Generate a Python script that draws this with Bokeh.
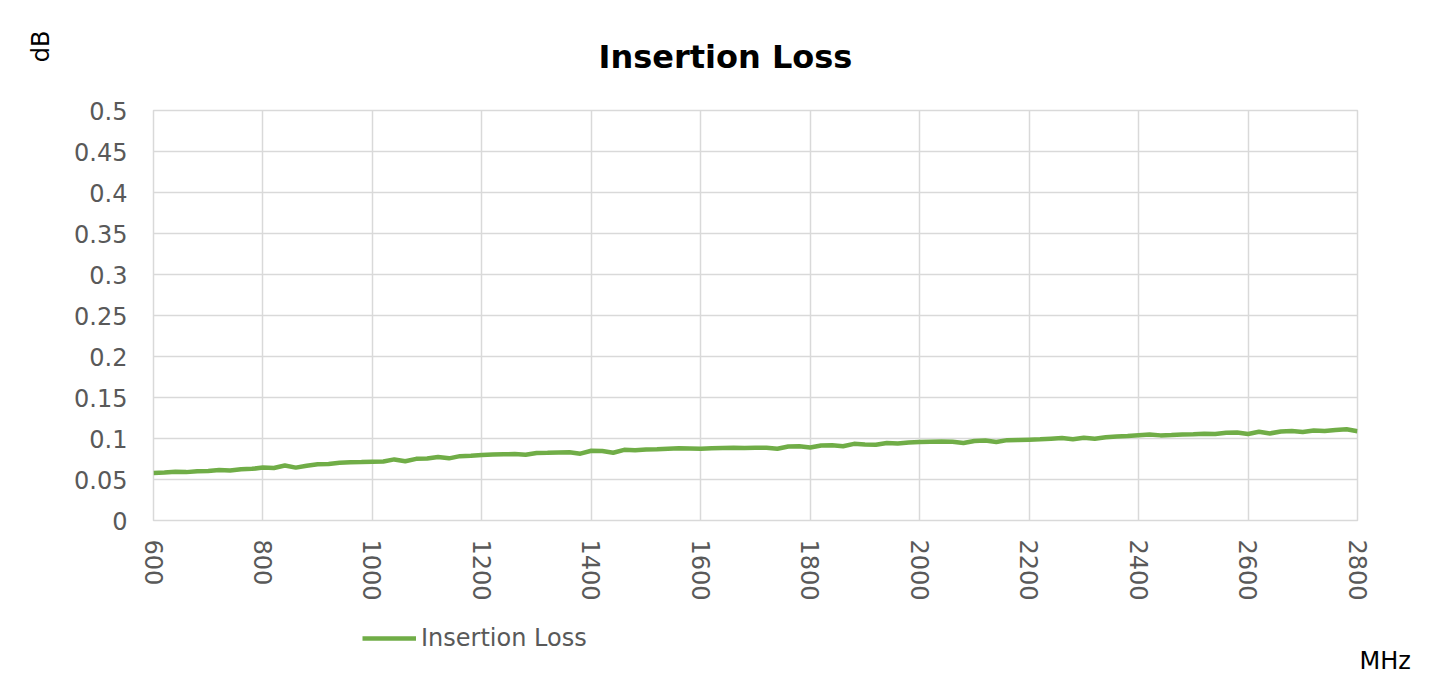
import math
from bokeh.plotting import figure
from bokeh.layouts import column
from bokeh.models import (Legend, LegendItem, FixedTicker, Range1d, LinearAxis,
                          ColumnDataSource, Title)
from bokeh.embed import file_html
from bokeh.resources import INLINE

# ---- data -------------------------------------------------------------
freq_mhz = list(range(600, 2801, 20))
insertion_loss_db = [
    0.0580, 0.0585, 0.0595, 0.0590, 0.0602, 0.0605, 0.0615, 0.0610, 0.0625, 0.0630,
    0.0645, 0.0640, 0.0670, 0.0645, 0.0668, 0.0685, 0.0690, 0.0705, 0.0710, 0.0712,
    0.0716, 0.0720, 0.0745, 0.0722, 0.0752, 0.0755, 0.0775, 0.0758, 0.0785, 0.0790,
    0.0800, 0.0805, 0.0808, 0.0810, 0.0802, 0.0822, 0.0825, 0.0830, 0.0832, 0.0815,
    0.0850, 0.0848, 0.0826, 0.0862, 0.0858, 0.0865, 0.0868, 0.0875, 0.0880, 0.0878,
    0.0876, 0.0882, 0.0885, 0.0888, 0.0884, 0.0886, 0.0888, 0.0875, 0.0902, 0.0905,
    0.0890, 0.0915, 0.0918, 0.0905, 0.0935, 0.0928, 0.0924, 0.0945, 0.0940, 0.0952,
    0.0957, 0.0960, 0.0962, 0.0960, 0.0945, 0.0970, 0.0975, 0.0958, 0.0980, 0.0982,
    0.0986, 0.0990, 0.0998, 0.1005, 0.0990, 0.1010, 0.0998, 0.1015, 0.1025, 0.1030,
    0.1040, 0.1050, 0.1038, 0.1042, 0.1048, 0.1052, 0.1058, 0.1056, 0.1070, 0.1072,
    0.1055, 0.1082, 0.1062, 0.1085, 0.1092, 0.1080, 0.1098, 0.1092, 0.1105, 0.1112,
    0.1088,
]
x_ticks = list(range(600, 2801, 200))
y_ticks = [0, 0.05, 0.1, 0.15, 0.2, 0.25, 0.3, 0.35, 0.4, 0.45, 0.5]
y_tick_labels = ["0", "0.05", "0.1", "0.15", "0.2", "0.25", "0.3", "0.35", "0.4", "0.45", "0.5"]
title_text = "Insertion Loss"
series_name = "Insertion Loss"
y_unit = "dB"
x_unit = "MHz"

FONT = "DejaVu Sans"
TICK_COLOR = "#595959"
GRID_COLOR = "#d9d9d9"
LINE_COLOR = "#70ad47"

W = 1433
H_MAIN = 610
H_FOOT = 74

# ---- main chart -------------------------------------------------------
p = figure(
    width=W, height=H_MAIN,
    frame_width=1204, frame_height=410,
    min_border_left=153, min_border_right=76,
    min_border_top=110, min_border_bottom=90,
    x_range=Range1d(600, 2800), y_range=Range1d(0, 0.5),
    output_backend="svg", toolbar_location=None,
    background_fill_color="white", border_fill_color="white",
)
p.outline_line_color = GRID_COLOR
p.outline_line_width = 1.5

src = ColumnDataSource(dict(x=freq_mhz, y=insertion_loss_db))
r = p.line("x", "y", source=src, line_color=LINE_COLOR, line_width=4.5)

for g in (p.xgrid, p.ygrid):
    g.grid_line_color = GRID_COLOR
    g.grid_line_width = 1.5
p.xaxis.ticker = FixedTicker(ticks=x_ticks)
p.yaxis.ticker = FixedTicker(ticks=y_ticks)
p.yaxis.major_label_overrides = {t: s for t, s in zip(y_ticks, y_tick_labels)}

for ax in (p.xaxis[0], p.yaxis[0]):
    ax.axis_line_color = None
    ax.major_tick_line_color = None
    ax.minor_tick_line_color = None
    ax.major_label_text_font = FONT
    ax.major_label_text_font_size = "24px"
    ax.major_label_text_color = TICK_COLOR
p.yaxis.major_label_standoff = 20
p.xaxis.major_label_standoff = 13
p.xaxis.major_label_orientation = -math.pi / 2

p.title.text = title_text
p.title.align = "left"
p.title.text_font = FONT
p.title.text_font_style = "bold"
p.title.text_font_size = "32px"
p.title.text_color = "black"
p.title.offset = 445
p.title.standoff = 70

p.add_layout(Title(text=y_unit, align="right", offset=-80, standoff=33,
                   text_font=FONT, text_font_size="24px", text_font_style="normal",
                   text_color="black"), "left")

# ---- footer: legend and x unit ---------------------------------------
pb = figure(
    width=W, height=H_FOOT,
    x_range=Range1d(0, W), y_range=Range1d(0, H_FOOT),
    x_axis_type=None, y_axis_type=None,
    min_border_left=0, min_border_right=0, min_border_top=0, min_border_bottom=0,
    output_backend="svg", toolbar_location=None,
    background_fill_color="white", border_fill_color="white",
)
pb.outline_line_color = None
pb.grid.visible = False

key = pb.line("x", "y", source=src, line_color=LINE_COLOR, line_width=4.5, visible=False)
legend = Legend(items=[LegendItem(label=series_name, renderers=[key])],
                location=(209, 32), orientation="horizontal",
                border_line_color=None, background_fill_alpha=0,
                inactive_fill_alpha=0,
                label_text_font=FONT, label_text_font_size="24px",
                label_text_color=TICK_COLOR, glyph_width=54, glyph_height=24,
                label_standoff=5, padding=0, margin=0, spacing=0)
pb.add_layout(legend, "center")

unit_pos = [24]
unit_axis = LinearAxis(ticker=FixedTicker(ticks=unit_pos),
                       major_label_overrides={unit_pos[0]: x_unit},
                       axis_line_color=None, major_tick_line_color=None,
                       minor_tick_line_color=None, major_label_standoff=-4,
                       major_label_text_font=FONT, major_label_text_font_size="24px",
                       major_label_text_color="black")
pb.add_layout(unit_axis, "right")

layout = column(p, pb, spacing=0)
open("out.html", "w").write(file_html(layout, INLINE))
